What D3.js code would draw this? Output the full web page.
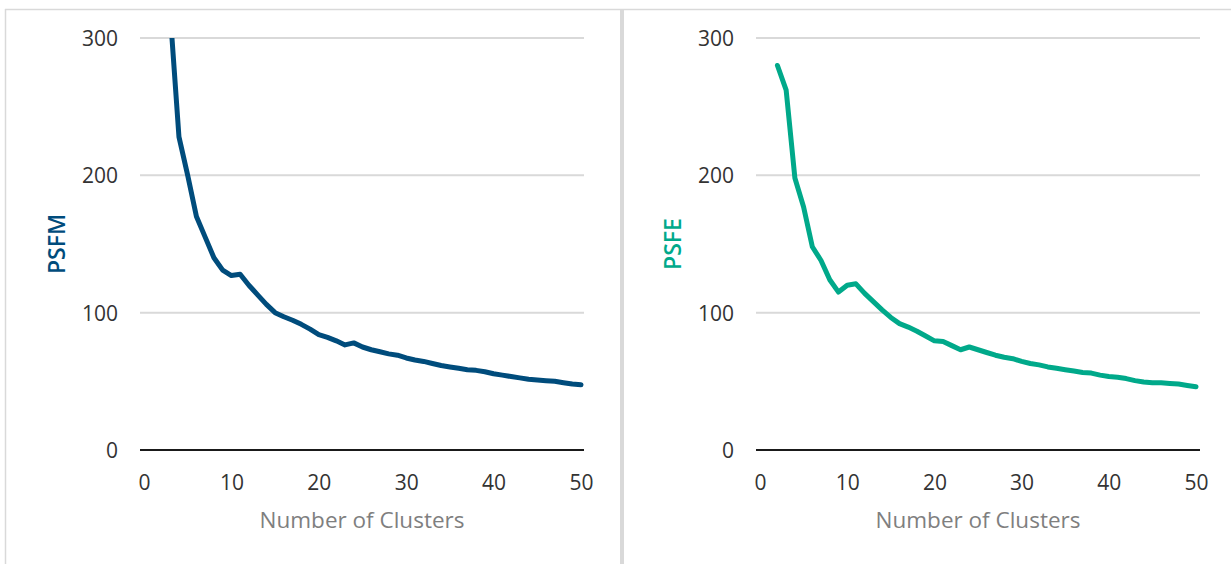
<!DOCTYPE html>
<html>
<head>
<meta charset="utf-8">
<script src="https://cdn.jsdelivr.net/npm/d3@7"></script>
<style>
  html, body { margin: 0; padding: 0; background: #fff; }
  svg { display: block; }
  text { font-family: "Open Sans", "Noto Sans", sans-serif; }
</style>
</head>
<body>
<svg id="chart" width="1231" height="564"></svg>
<script>
// ---- data ----
const xTicks = [0, 10, 20, 30, 40, 50];
const yTicks = [0, 100, 200, 300];
const xTitle = "Number of Clusters";

const psfmClusters = [3,4,5,6,7,8,9,10,11,12,13,14,15,16,17,18,19,20,21,22,23,24,25,26,27,28,29,30,31,32,33,34,35,36,37,38,39,40,41,42,43,44,45,46,47,48,49,50];
const psfmValues   = [318,228,200,170,155,140,131,127,128,120,113,106,100,97,94.5,91.5,88,84,82,79.5,76.5,78,75,73,71.5,70,69,67,65.5,64.5,63,61.5,60.5,59.5,58.5,58,57,55.5,54.5,53.5,52.5,51.5,51,50.5,50,49,48,47.5];

const psfeClusters = [2,3,4,5,6,7,8,9,10,11,12,13,14,15,16,17,18,19,20,21,22,23,24,25,26,27,28,29,30,31,32,33,34,35,36,37,38,39,40,41,42,43,44,45,46,47,48,49,50];
const psfeValues   = [280,262,198,177,148,138,124,115,120,121,114,108,102,96.5,92,89.5,86.5,83,79.5,79,76,73,75,73,71,69,67.5,66.5,64.5,63,62,60.5,59.5,58.5,57.5,56.5,56,54.5,53.5,53,52,50.5,49.5,49,49,48.5,48,47,46];

// ---- layout ----
const svg = d3.select("#chart");

// panel frames
svg.append("line").attr("x1", 5).attr("x2", 1231).attr("y1", 9.5).attr("y2", 9.5)
  .attr("stroke", "#d9d9d9").attr("stroke-width", 1.5);
svg.append("line").attr("x1", 5.5).attr("x2", 5.5).attr("y1", 9).attr("y2", 564)
  .attr("stroke", "#d9d9d9").attr("stroke-width", 1.5);
svg.append("rect").attr("x", 620).attr("y", 9).attr("width", 4).attr("height", 555)
  .attr("fill", "#d9d9d9");

const panels = [
  { clusters: psfmClusters, values: psfmValues, label: "PSFM", color: "#004C7C",
    xr: [144, 581], gridL: 140, gridR: 584, yLabelX: 118, titleX: 362, yTitleX: 57, id: "a" },
  { clusters: psfeClusters, values: psfeValues, label: "PSFE", color: "#00A98A",
    xr: [760, 1196], gridL: 756, gridR: 1200, yLabelX: 734, titleX: 978, yTitleX: 673, id: "b" }
];

const yTop = 38, yBot = 450;

panels.forEach(p => {
  const x = d3.scaleLinear().domain([0, 50]).range(p.xr);
  const y = d3.scaleLinear().domain([0, 300]).range([yBot, yTop]);
  const g = svg.append("g");

  // gridlines
  g.selectAll(".grid").data(yTicks.filter(d => d !== 0)).enter().append("line")
    .attr("x1", p.gridL).attr("x2", p.gridR)
    .attr("y1", d => y(d)).attr("y2", d => y(d))
    .attr("stroke", "#d9d9d9").attr("stroke-width", 2);

  // y axis labels
  const ya = d3.axisLeft(y).tickValues(yTicks).tickSize(0).tickPadding(0);
  const yg = g.append("g").attr("transform", `translate(${p.yLabelX},0)`).call(ya);
  yg.select(".domain").remove();
  yg.selectAll("text").attr("fill", "#333333").style("font-size", "21px")
    .style("font-family", "'Open Sans', sans-serif").attr("dy", "0.35em");

  // x axis labels
  const xa = d3.axisBottom(x).tickValues(xTicks).tickSize(0).tickPadding(0);
  const xg = g.append("g").attr("transform", `translate(0,${yBot + 25})`).call(xa);
  xg.select(".domain").remove();
  xg.selectAll("text").attr("fill", "#333333").style("font-size", "21px")
    .style("font-family", "'Open Sans', sans-serif").attr("dy", "0.35em").attr("y", 8);

  // zero axis line
  g.append("line").attr("x1", p.gridL).attr("x2", p.gridR)
    .attr("y1", y(0)).attr("y2", y(0)).attr("stroke", "#1a1a1a").attr("stroke-width", 2);

  // clip
  svg.append("clipPath").attr("id", "clip" + p.id).append("rect")
    .attr("x", p.gridL - 10).attr("y", yTop).attr("width", p.gridR - p.gridL + 20).attr("height", yBot - yTop + 10);

  const line = d3.line().x((d, i) => x(p.clusters[i])).y(d => y(d));
  g.append("path").datum(p.values)
    .attr("clip-path", `url(#clip${p.id})`)
    .attr("d", line).attr("fill", "none").attr("stroke", p.color)
    .attr("stroke-width", 5).attr("stroke-linejoin", "round").attr("stroke-linecap", "round");

  // x title
  g.append("text").attr("x", p.titleX).attr("y", 520).attr("dy", "0.35em")
    .attr("text-anchor", "middle").attr("fill", "#7f7f7f").style("font-size", "22.5px")
    .text(xTitle);

  // y title
  g.append("text").attr("transform", `translate(${p.yTitleX},244) rotate(-90)`)
    .attr("dy", "0.35em").attr("text-anchor", "middle").attr("fill", p.color)
    .style("font-size", "23px").style("font-weight", 600).text(p.label);
});
</script>
</body>
</html>
